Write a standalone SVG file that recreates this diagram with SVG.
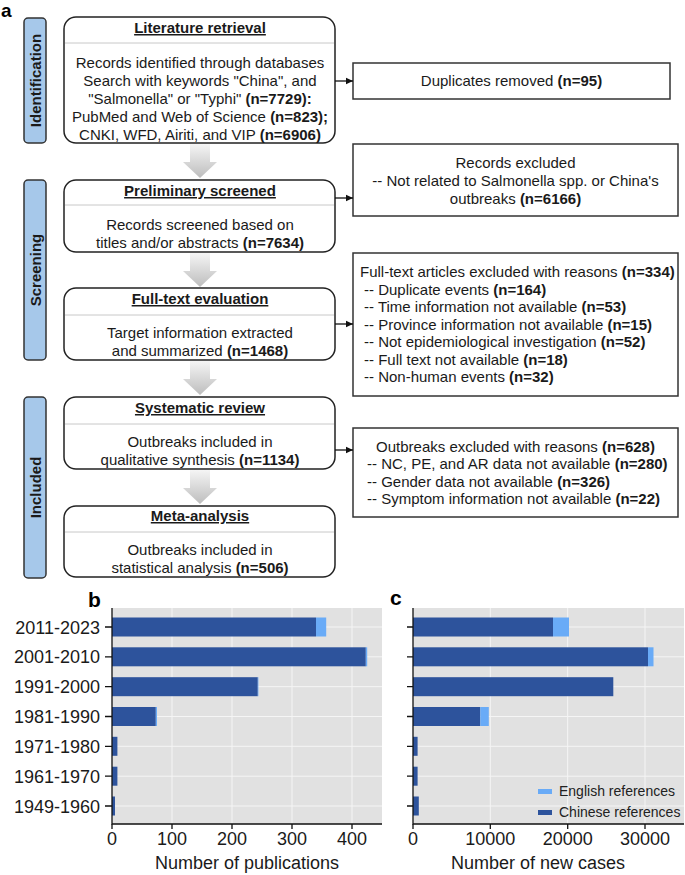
<svg xmlns="http://www.w3.org/2000/svg" width="685" height="875" viewBox="0 0 685 875">
<defs>
<linearGradient id="ga" x1="0" y1="0" x2="0" y2="1"><stop offset="0" stop-color="#f5f5f5"/><stop offset="1" stop-color="#bdbdbd"/></linearGradient>
<path id="bigArrow" d="M-10,0 H10 V18 H17 L0,34 L-17,18 H-10 Z" fill="url(#ga)"/>
<marker id="ah" markerWidth="8" markerHeight="8" refX="7" refY="4" orient="auto" markerUnits="userSpaceOnUse"><path d="M0,0.8 L7,4 L0,7.2 Z" fill="#111"/></marker>
</defs>
<style>
text{font-family:"Liberation Sans",Arial,sans-serif;fill:#1a1a1a}
.t{font-size:15px}
.mid{text-anchor:middle}
.ttl{font-size:15px;font-weight:bold;text-decoration:underline;text-anchor:middle}
.b{font-weight:bold}
.box{fill:#fff;stroke:#222;stroke-width:1.5}
.div{stroke:#c8c8c8;stroke-width:1}
.side{fill:#a6c8ea;stroke:#333;stroke-width:1.5}
.sl{font-size:15px;font-weight:bold;text-anchor:middle}
.rb{fill:#fff;stroke:#333;stroke-width:1.5}
.con{stroke:#111;stroke-width:1.3;fill:none;marker-end:url(#ah)}
.ax{font-size:18px;fill:#222}
.bg{fill:#e1e1e1}
.grid{stroke:#f5f5f5;stroke-width:1}
.axl{stroke:#111;stroke-width:1.3;fill:none}
.cn{fill:#2d539c}
.en{fill:#69abf7}
.lg{font-size:14px;fill:#222}
.pl{font-size:21px;font-weight:bold;fill:#000}
</style>
<rect width="685" height="875" fill="#fff"/>
<text class="pl" x="1" y="17" style="font-size:19px">a</text>
<text class="pl" x="88" y="607">b</text>
<text class="pl" x="390" y="605">c</text>

<g id="s-id"><rect class="side" x="24" y="18" width="22" height="125" rx="4"/><text class="sl" transform="translate(40.5,80.5) rotate(-90)">Identification</text></g>
<g id="s-scr"><rect class="side" x="24" y="180" width="22" height="180" rx="4"/><text class="sl" transform="translate(40.5,270) rotate(-90)">Screening</text></g>
<g id="s-inc"><rect class="side" x="24" y="397" width="22" height="181" rx="4"/><text class="sl" transform="translate(40.5,487.5) rotate(-90)">Included</text></g>

<g id="n-lit"><rect class="box" x="64" y="17" width="271" height="126" rx="12"/><line class="div" x1="65" y1="43" x2="334" y2="43"/>
<text class="ttl" x="200" y="33">Literature retrieval</text>
<text class="t mid" x="200" y="68">Records identified through databases</text>
<text class="t mid" x="200" y="86">Search with keywords "China", and</text>
<text class="t mid" x="200" y="104">"Salmonella" or "Typhi" <tspan class="b">(n=7729):</tspan></text>
<text class="t mid" x="200" y="122">PubMed and Web of Science <tspan class="b">(n=823);</tspan></text>
<text class="t mid" x="200" y="140">CNKI, WFD, Airiti, and VIP <tspan class="b">(n=6906)</tspan></text></g>

<g id="n-pre"><rect class="box" x="64" y="180" width="271" height="72" rx="12"/><line class="div" x1="65" y1="205" x2="334" y2="205"/>
<text class="ttl" x="200" y="196">Preliminary screened</text>
<text class="t mid" x="200" y="230">Records screened based on</text>
<text class="t mid" x="200" y="248">titles and/or abstracts <tspan class="b">(n=7634)</tspan></text></g>

<g id="n-full"><rect class="box" x="64" y="288" width="271" height="72" rx="12"/><line class="div" x1="65" y1="315" x2="334" y2="315"/>
<text class="ttl" x="200" y="304">Full-text evaluation</text>
<text class="t mid" x="200" y="338">Target information extracted</text>
<text class="t mid" x="200" y="356">and summarized <tspan class="b">(n=1468)</tspan></text></g>

<g id="n-sys"><rect class="box" x="64" y="397" width="271" height="72" rx="12"/><line class="div" x1="65" y1="424" x2="334" y2="424"/>
<text class="ttl" x="200" y="413">Systematic review</text>
<text class="t mid" x="200" y="447">Outbreaks included in</text>
<text class="t mid" x="200" y="465">qualitative synthesis <tspan class="b">(n=1134)</tspan></text></g>

<g id="n-meta"><rect class="box" x="64" y="506" width="271" height="71" rx="12"/><line class="div" x1="65" y1="532" x2="334" y2="532"/>
<text class="ttl" x="200" y="521">Meta-analysis</text>
<text class="t mid" x="200" y="555">Outbreaks included in</text>
<text class="t mid" x="200" y="573">statistical analysis <tspan class="b">(n=506)</tspan></text></g>

<g id="r-dup"><rect class="rb" x="353" y="63" width="317" height="36"/>
<text class="t mid" x="511.5" y="86">Duplicates removed <tspan class="b">(n=95)</tspan></text></g>

<g id="r-rec"><rect class="rb" x="353" y="144" width="325" height="72"/>
<text class="t mid" x="515.5" y="168">Records excluded</text>
<text class="t mid" x="515.5" y="186">-- Not related to Salmonella spp. or China's</text>
<text class="t mid" x="515.5" y="204">outbreaks <tspan class="b">(n=6166)</tspan></text></g>

<g id="r-full"><rect class="rb" x="353" y="253" width="325" height="143"/>
<text class="t" x="360" y="277">Full-text articles excluded with reasons <tspan class="b">(n=334)</tspan></text>
<text class="t" x="364" y="294.5">-- Duplicate events <tspan class="b">(n=164)</tspan></text>
<text class="t" x="364" y="312">-- Time information not available <tspan class="b">(n=53)</tspan></text>
<text class="t" x="364" y="329.5">-- Province information not available <tspan class="b">(n=15)</tspan></text>
<text class="t" x="364" y="347">-- Not epidemiological investigation <tspan class="b">(n=52)</tspan></text>
<text class="t" x="364" y="364.5">-- Full text not available <tspan class="b">(n=18)</tspan></text>
<text class="t" x="364" y="382">-- Non-human events <tspan class="b">(n=32)</tspan></text></g>

<g id="r-out"><rect class="rb" x="353" y="428" width="325" height="89"/>
<text class="t mid" x="515.5" y="451.5">Outbreaks excluded with reasons <tspan class="b">(n=628)</tspan></text>
<text class="t" x="367" y="469">-- NC, PE, and AR data not available <tspan class="b">(n=280)</tspan></text>
<text class="t" x="367" y="486.5">-- Gender data not available <tspan class="b">(n=326)</tspan></text>
<text class="t" x="367" y="504">-- Symptom information not available <tspan class="b">(n=22)</tspan></text></g>

<g id="connectors">
<use href="#bigArrow" x="200" y="144"/>
<use href="#bigArrow" x="200" y="253"/>
<use href="#bigArrow" x="200" y="361"/>
<use href="#bigArrow" x="200" y="470"/>
<line class="con" x1="335" y1="81" x2="353" y2="81"/>
<line class="con" x1="335" y1="198" x2="353" y2="198"/>
<line class="con" x1="335" y1="324" x2="353" y2="324"/>
<line class="con" x1="335" y1="450" x2="353" y2="450"/>
</g>

<g id="chart-b">
<rect class="bg" x="112" y="608" width="270" height="216"/>
<g class="grid">
<line x1="172" y1="608" x2="172" y2="824"/><line x1="232" y1="608" x2="232" y2="824"/><line x1="292" y1="608" x2="292" y2="824"/><line x1="352" y1="608" x2="352" y2="824"/>
<line x1="112" y1="627" x2="382" y2="627"/><line x1="112" y1="656.8" x2="382" y2="656.8"/><line x1="112" y1="686.7" x2="382" y2="686.7"/><line x1="112" y1="716.5" x2="382" y2="716.5"/><line x1="112" y1="746.3" x2="382" y2="746.3"/><line x1="112" y1="776.2" x2="382" y2="776.2"/><line x1="112" y1="806" x2="382" y2="806"/>
</g>
<rect class="cn" x="112" y="617.5" width="204" height="19"/><rect class="en" x="316" y="617.5" width="10.2" height="19"/>
<rect class="cn" x="112" y="647.3" width="253.8" height="19"/><rect class="en" x="365.8" y="647.3" width="1.4" height="19"/>
<rect class="cn" x="112" y="677.2" width="145.8" height="19"/><rect class="en" x="257.8" y="677.2" width="0.6" height="19"/>
<rect class="cn" x="112" y="707" width="43.8" height="19"/><rect class="en" x="155.8" y="707" width="1.2" height="19"/>
<rect class="cn" x="112" y="736.8" width="5.4" height="19"/>
<rect class="cn" x="112" y="766.7" width="5.4" height="19"/>
<rect class="cn" x="112" y="796.5" width="3" height="19"/>
<path class="axl" d="M112,608 V824 H382"/>
<path class="axl" d="M105,627 H112 M105,656.8 H112 M105,686.7 H112 M105,716.5 H112 M105,746.3 H112 M105,776.2 H112 M105,806 H112 M112,824 V829 M172,824 V829 M232,824 V829 M292,824 V829 M352,824 V829"/>
<g class="ax" text-anchor="end">
<text x="100" y="633.5">2011-2023</text><text x="100" y="663.3">2001-2010</text><text x="100" y="693.2">1991-2000</text><text x="100" y="723">1981-1990</text><text x="100" y="752.8">1971-1980</text><text x="100" y="782.7">1961-1970</text><text x="100" y="812.5">1949-1960</text>
</g>
<g class="ax" text-anchor="middle">
<text x="112" y="845">0</text><text x="172" y="845">100</text><text x="232" y="845">200</text><text x="292" y="845">300</text><text x="352" y="845">400</text>
<text x="247" y="869">Number of publications</text>
</g>
</g>

<g id="chart-c">
<rect class="bg" x="413" y="608" width="271" height="216"/>
<g class="grid">
<line x1="490.3" y1="608" x2="490.3" y2="824"/><line x1="567.7" y1="608" x2="567.7" y2="824"/><line x1="645" y1="608" x2="645" y2="824"/>
<line x1="413" y1="627" x2="684" y2="627"/><line x1="413" y1="656.8" x2="684" y2="656.8"/><line x1="413" y1="686.7" x2="684" y2="686.7"/><line x1="413" y1="716.5" x2="684" y2="716.5"/><line x1="413" y1="746.3" x2="684" y2="746.3"/><line x1="413" y1="776.2" x2="684" y2="776.2"/><line x1="413" y1="806" x2="684" y2="806"/>
</g>
<rect class="cn" x="413" y="617.5" width="140" height="19"/><rect class="en" x="553" y="617.5" width="16" height="19"/>
<rect class="cn" x="413" y="647.3" width="235" height="19"/><rect class="en" x="648" y="647.3" width="5.5" height="19"/>
<rect class="cn" x="413" y="677.2" width="200.3" height="19"/>
<rect class="cn" x="413" y="707" width="67.3" height="19"/><rect class="en" x="480.3" y="707" width="8.5" height="19"/>
<rect class="cn" x="413" y="736.8" width="4.6" height="19"/>
<rect class="cn" x="413" y="766.7" width="4.6" height="19"/>
<rect class="cn" x="413" y="796.5" width="5.8" height="19"/>
<path class="axl" d="M413,608 V824 H684"/>
<path class="axl" d="M407,627 H413 M407,656.8 H413 M407,686.7 H413 M407,716.5 H413 M407,746.3 H413 M407,776.2 H413 M407,806 H413 M413,824 V829 M490.3,824 V829 M567.7,824 V829 M645,824 V829"/>
<g class="ax" text-anchor="middle">
<text x="413" y="845">0</text><text x="490.3" y="845">10000</text><text x="567.7" y="845">20000</text><text x="645" y="845">30000</text>
<text x="538" y="869">Number of new cases</text>
</g>
<g id="legend">
<rect class="en" x="538" y="789" width="14" height="5"/>
<rect class="cn" x="538" y="810" width="14" height="5"/>
<text class="lg" x="559" y="796">English references</text>
<text class="lg" x="559" y="817">Chinese references</text>
</g>
</g>
</svg>
